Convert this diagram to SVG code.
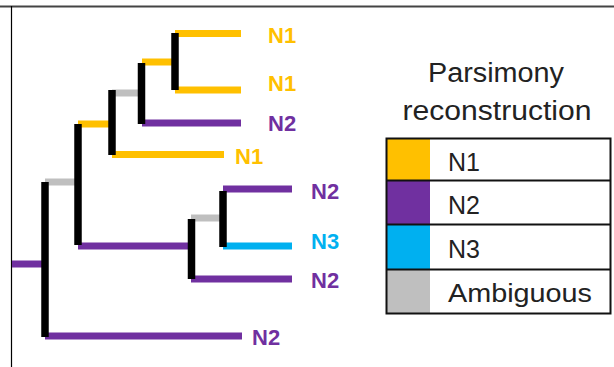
<svg xmlns="http://www.w3.org/2000/svg" width="614" height="367" viewBox="0 0 614 367">
<style>
.br{stroke-width:7;fill:none;stroke-linecap:butt}
.y{stroke:#FFC000}.p{stroke:#7030A0}.c{stroke:#00B0F0}.g{stroke:#BFBFBF}
.v{stroke:#000;stroke-width:7.5;fill:none}
.lab{font-family:"Liberation Sans",Arial,sans-serif;font-weight:bold;font-size:22px}
.ty{fill:#FFC000}.tp{fill:#7030A0}.tc{fill:#00B0F0}
.leg{font-family:"Liberation Sans",Arial,sans-serif;font-size:25px;fill:#222}
.ttl{font-family:"Liberation Sans",Arial,sans-serif;font-size:27px;fill:#222;text-anchor:middle}
</style>
<rect x="0" y="0" width="614" height="367" fill="#fff"/>
<line x1="0" y1="6.5" x2="614" y2="6.5" stroke="#444" stroke-width="2"/>
<line x1="11.5" y1="6" x2="11.5" y2="367" stroke="#000" stroke-width="1.2"/>
<g id="connectors">
<line class="br y" x1="175" y1="33.5" x2="241" y2="33.5"/>
<line class="br y" x1="175" y1="90" x2="241" y2="90"/>
<line class="br y" x1="142" y1="62" x2="175" y2="62"/>
<line class="br p" x1="142" y1="123" x2="241" y2="123"/>
<line class="br g" x1="112" y1="93" x2="141" y2="93"/>
<line class="br y" x1="112" y1="154.5" x2="224" y2="154.5"/>
<line class="br y" x1="78" y1="124" x2="112" y2="124"/>
<line class="br g" x1="45" y1="182" x2="78" y2="182"/>
<line class="br p" x1="12" y1="264" x2="45" y2="264"/>
<line class="br p" x1="78" y1="246" x2="191" y2="246"/>
<line class="br g" x1="191" y1="218" x2="223" y2="218"/>
<line class="br p" x1="223" y1="189" x2="292" y2="189"/>
<line class="br c" x1="223" y1="246" x2="292" y2="246"/>
<line class="br p" x1="191" y1="279" x2="292" y2="279"/>
<line class="br p" x1="45" y1="336" x2="242" y2="336"/>
<line class="v" x1="175" y1="33" x2="175" y2="90"/>
<line class="v" x1="141.5" y1="63" x2="141.5" y2="124"/>
<line class="v" x1="112" y1="90" x2="112" y2="155"/>
<line class="v" x1="78" y1="124" x2="78" y2="245"/>
<line class="v" x1="45" y1="182" x2="45" y2="337"/>
<line class="v" x1="191.5" y1="219" x2="191.5" y2="279"/>
<line class="v" x1="223" y1="191" x2="223" y2="247"/>
</g>
<g id="leaf1"><text class="lab ty" x="268" y="43">N1</text></g>
<g id="leaf2"><text class="lab ty" x="268" y="91">N1</text></g>
<g id="leaf3"><text class="lab tp" x="268" y="131">N2</text></g>
<g id="leaf4"><text class="lab ty" x="235" y="164">N1</text></g>
<g id="leaf5"><text class="lab tp" x="311" y="199">N2</text></g>
<g id="leaf6"><text class="lab tc" x="311" y="249">N3</text></g>
<g id="leaf7"><text class="lab tp" x="311" y="288">N2</text></g>
<g id="leaf8"><text class="lab tp" x="252" y="345">N2</text></g>
<g id="legend">
<text class="ttl" x="496" y="82" textLength="136" lengthAdjust="spacingAndGlyphs">Parsimony</text>
<text class="ttl" x="497" y="120" textLength="189" lengthAdjust="spacingAndGlyphs">reconstruction</text>
<rect x="387" y="138.5" width="43" height="42" fill="#FFC000"/>
<rect x="387" y="180.5" width="43" height="44" fill="#7030A0"/>
<rect x="387" y="224.5" width="43" height="45" fill="#00B0F0"/>
<rect x="387" y="269.5" width="43" height="44" fill="#BFBFBF"/>
<rect x="386.5" y="138.5" width="224" height="175" fill="none" stroke="#111" stroke-width="2"/>
<line x1="386.5" y1="180.5" x2="610.5" y2="180.5" stroke="#111" stroke-width="2"/>
<line x1="386.5" y1="224.5" x2="610.5" y2="224.5" stroke="#111" stroke-width="2"/>
<line x1="386.5" y1="269.5" x2="610.5" y2="269.5" stroke="#111" stroke-width="2"/>
<text class="leg" x="448" y="171">N1</text>
<text class="leg" x="448" y="214">N2</text>
<text class="leg" x="448" y="258">N3</text>
<text class="leg" x="448" y="302" textLength="144" lengthAdjust="spacingAndGlyphs">Ambiguous</text>
</g>
</svg>
